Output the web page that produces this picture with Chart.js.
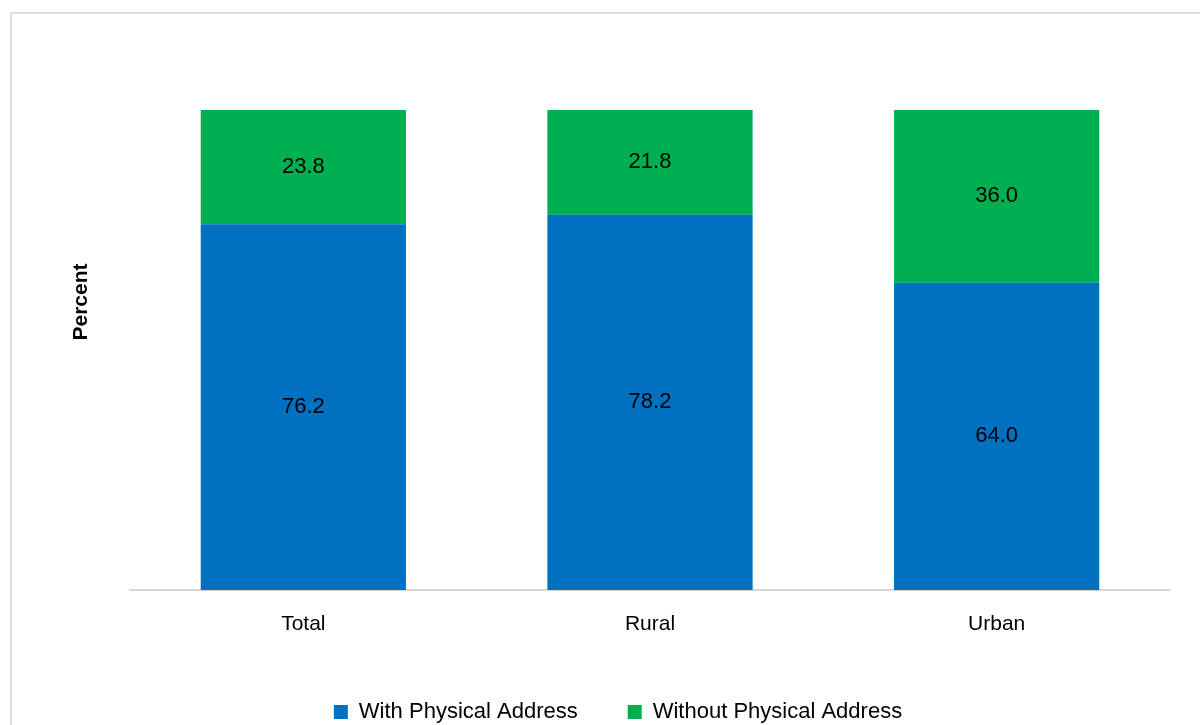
<!DOCTYPE html>
<html>
<head>
<meta charset="utf-8">
<script src="https://cdn.jsdelivr.net/npm/chart.js@4.4.0/dist/chart.umd.min.js"></script>
<style>
  html, body { margin: 0; padding: 0; background: #fff; overflow: hidden; }
  #frame { position: absolute; left: 10px; top: 12px; width: 1300px; height: 900px; border-left: 2px solid #dedede; border-top: 2px solid #dedede; }
  #wrap { position: absolute; left: 0; top: 0; width: 1200px; height: 725px; }
</style>
</head>
<body>
<div id="frame"></div>
<div id="wrap"><canvas id="c" width="1200" height="725"></canvas></div>
<script>
const categories = ["Total", "Rural", "Urban"];
const withAddress = [76.2, 78.2, 64.0];
const withoutAddress = [23.8, 21.8, 36.0];
const seriesNames = ["With Physical Address", "Without Physical Address"];
const yTitle = "Percent";

const SANS = '"Liberation Sans", Arial, sans-serif';

const valueLabels = {
  id: 'valueLabels',
  afterDatasetsDraw(chart) {
    const ctx = chart.ctx;
    ctx.save();
    ctx.font = '22px ' + SANS;
    ctx.fillStyle = '#000';
    ctx.textAlign = 'center';
    ctx.textBaseline = 'middle';
    chart.data.datasets.forEach((ds, i) => {
      const meta = chart.getDatasetMeta(i);
      meta.data.forEach((bar, j) => {
        const y = (bar.y + bar.base) / 2;
        ctx.fillText(ds.data[j].toFixed(1), bar.x, y);
      });
    });
    ctx.restore();
  }
};

const yTitlePlugin = {
  id: 'yTitlePlugin',
  afterDraw(chart) {
    const ctx = chart.ctx;
    ctx.save();
    ctx.font = 'bold 21px ' + SANS;
    ctx.fillStyle = '#000';
    ctx.textAlign = 'center';
    ctx.textBaseline = 'middle';
    ctx.translate(81, 302);
    ctx.rotate(-Math.PI / 2);
    ctx.fillText(yTitle, 0, 0);
    ctx.restore();
  }
};

new Chart(document.getElementById('c'), {
  type: 'bar',
  data: {
    labels: categories,
    datasets: [
      { label: seriesNames[0], data: withAddress, backgroundColor: '#0070C0', borderWidth: 0 },
      { label: seriesNames[1], data: withoutAddress, backgroundColor: '#00B050', borderWidth: 0 }
    ]
  },
  options: {
    responsive: false,
    animation: false,
    layout: { padding: { left: 66, right: 30, top: 110, bottom: -8 } },
    datasets: { bar: { categoryPercentage: 1.0, barPercentage: 0.592 } },
    scales: {
      x: {
        stacked: true,
        grid: { display: false, drawTicks: false },
        border: { display: true, color: '#d9d9d9', width: 2 },
        ticks: { color: '#000', font: { family: SANS, size: 21 }, padding: 22 },
        afterFit(scale) { scale.height = 61; }
      },
      y: {
        stacked: true,
        min: 0, max: 100,
        grid: { display: false, drawTicks: false },
        border: { display: false },
        ticks: { display: false },
        afterFit(scale) { scale.width = 64; }
      }
    },
    plugins: {
      legend: {
        position: 'bottom',
        labels: {
          color: '#000',
          font: { family: SANS, size: 22 },
          boxWidth: 14, boxHeight: 14,
          padding: 50
        }
      },
      tooltip: { enabled: false }
    }
  },
  plugins: [valueLabels, yTitlePlugin]
});
</script>
</body>
</html>
